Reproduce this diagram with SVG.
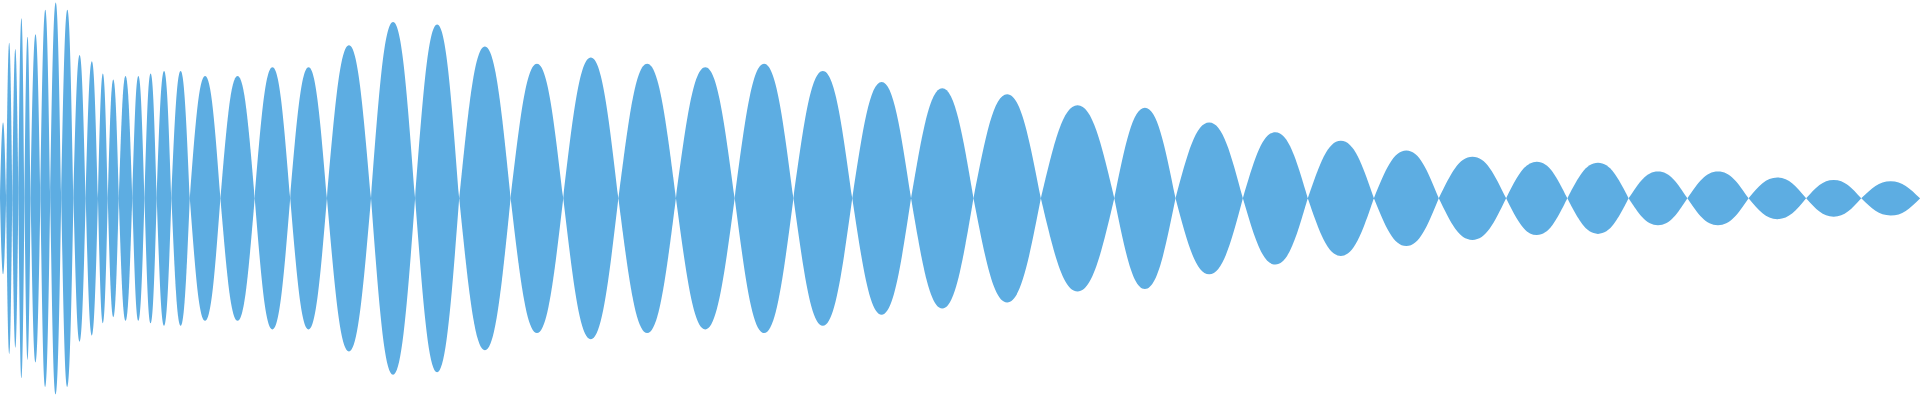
<svg xmlns="http://www.w3.org/2000/svg" xmlns:xlink="http://www.w3.org/1999/xlink" width="1920" height="400" viewBox="0 0 1920 400">
<defs><path id="L" d="M0 0C0.18 -0.6 0.3 -1 0.5 -1C0.7 -1 0.82 -0.6 1 0C0.82 0.6 0.7 1 0.5 1C0.3 1 0.18 0.6 0 0Z"/></defs>
<rect width="1920" height="400" fill="#fff"/>
<g fill="#5dade2" transform="scale(1.2245)">
<use xlink:href="#L" transform="translate(0,162) scale(5,62)"/>
<use xlink:href="#L" transform="translate(5,162) scale(5,127)"/>
<use xlink:href="#L" transform="translate(10,162) scale(5,122)"/>
<use xlink:href="#L" transform="translate(15,162) scale(5,147)"/>
<use xlink:href="#L" transform="translate(20,162) scale(5,132)"/>
<use xlink:href="#L" transform="translate(25,162) scale(8,134)"/>
<use xlink:href="#L" transform="translate(33,162) scale(8,154)"/>
<use xlink:href="#L" transform="translate(41,162) scale(9,160)"/>
<use xlink:href="#L" transform="translate(50,162) scale(10,154)"/>
<use xlink:href="#L" transform="translate(60,162) scale(10,117)"/>
<use xlink:href="#L" transform="translate(70,162) scale(10,112)"/>
<use xlink:href="#L" transform="translate(80,162) scale(8,102)"/>
<use xlink:href="#L" transform="translate(88,162) scale(9,97)"/>
<use xlink:href="#L" transform="translate(97,162) scale(11,100)"/>
<use xlink:href="#L" transform="translate(108,162) scale(10,100)"/>
<use xlink:href="#L" transform="translate(118,162) scale(10,102)"/>
<use xlink:href="#L" transform="translate(128,162) scale(12,104)"/>
<use xlink:href="#L" transform="translate(140,162) scale(15,104)"/>
<use xlink:href="#L" transform="translate(155,162) scale(25,100)"/>
<use xlink:href="#L" transform="translate(180,162) scale(28,100)"/>
<use xlink:href="#L" transform="translate(208,162) scale(29,107)"/>
<use xlink:href="#L" transform="translate(237,162) scale(30,107)"/>
<use xlink:href="#L" transform="translate(267,162) scale(36,125)"/>
<use xlink:href="#L" transform="translate(303,162) scale(36,144)"/>
<use xlink:href="#L" transform="translate(339,162) scale(36,142)"/>
<use xlink:href="#L" transform="translate(375,162) scale(42,124)"/>
<use xlink:href="#L" transform="translate(417,162) scale(43,110)"/>
<use xlink:href="#L" transform="translate(460,162) scale(45,115)"/>
<use xlink:href="#L" transform="translate(505,162) scale(47,110)"/>
<use xlink:href="#L" transform="translate(552,162) scale(48,107)"/>
<use xlink:href="#L" transform="translate(600,162) scale(48,110)"/>
<use xlink:href="#L" transform="translate(648,162) scale(48,104)"/>
<use xlink:href="#L" transform="translate(696,162) scale(48,95)"/>
<use xlink:href="#L" transform="translate(744,162) scale(51,90)"/>
<use xlink:href="#L" transform="translate(795,162) scale(55,85)"/>
<use xlink:href="#L" transform="translate(850,162) scale(60,76)"/>
<use xlink:href="#L" transform="translate(910,162) scale(50,74)"/>
<use xlink:href="#L" transform="translate(960,162) scale(55,62)"/>
<use xlink:href="#L" transform="translate(1015,162) scale(53,54)"/>
<use xlink:href="#L" transform="translate(1068,162) scale(54,47)"/>
<use xlink:href="#L" transform="translate(1122,162) scale(53,39)"/>
<use xlink:href="#L" transform="translate(1175,162) scale(55,34)"/>
<use xlink:href="#L" transform="translate(1230,162) scale(50,30)"/>
<use xlink:href="#L" transform="translate(1280,162) scale(50,29)"/>
<use xlink:href="#L" transform="translate(1330,162) scale(48,22)"/>
<use xlink:href="#L" transform="translate(1378,162) scale(50,22)"/>
<use xlink:href="#L" transform="translate(1428,162) scale(47,17)"/>
<use xlink:href="#L" transform="translate(1475,162) scale(45,15)"/>
<use xlink:href="#L" transform="translate(1520,162) scale(48,14)"/>
</g>
</svg>
